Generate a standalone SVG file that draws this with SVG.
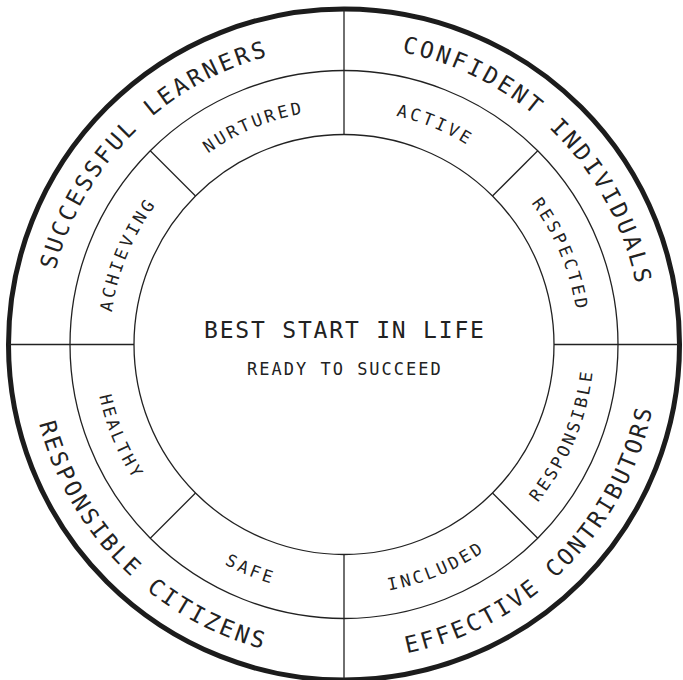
<svg xmlns="http://www.w3.org/2000/svg" width="683" height="680" viewBox="0 0 683 680">
<defs>
<style>
.ring{fill:none;stroke:#222;stroke-width:1.3}
.outer{fill:none;stroke:#1c1c1c;stroke-width:5}
.ln{stroke:#222;stroke-width:1.3;fill:none}
text{font-family:"DejaVu Sans Mono","Liberation Mono",monospace;fill:#222}
.big{font-size:23px;letter-spacing:2.9px}
.mid{font-size:17px;letter-spacing:3px}
</style>
<path id="pSL" d="M56.15,421.63 A298,298 0 0,1 421.13,56.65"/>
<path id="pCI" d="M266.87,56.65 A298,298 0 0,1 631.85,421.63"/>
<path id="pEC" d="M262.47,648.77 A315,315 0 0,0 648.27,262.97"/>
<path id="pRC" d="M39.73,262.97 A315,315 0 0,0 425.53,648.77"/>
<path id="pNU" d="M120.35,273.98 A234.5,234.5 0 0,1 452.28,136.5"/>
<path id="pAC" d="M235.72,136.5 A234.5,234.5 0 0,1 567.65,273.98"/>
<path id="pRE" d="M414.52,120.85 A234.5,234.5 0 0,1 552,452.78"/>
<path id="pAH" d="M136,452.78 A234.5,234.5 0 0,1 273.48,120.85"/>
<path id="pRS" d="M419.18,582.93 A250,250 0 0,0 565.75,229.06"/>
<path id="pIN" d="M228.56,566.25 A250,250 0 0,0 582.43,419.68"/>
<path id="pSA" d="M105.57,419.68 A250,250 0 0,0 459.44,566.25"/>
<path id="pHE" d="M122.25,229.06 A250,250 0 0,0 268.82,582.93"/>
</defs>
<rect width="683" height="680" fill="#fff"/>
<g id="rings">
<circle class="outer" cx="344" cy="344.5" r="335.5"/>
<circle class="ring" cx="344" cy="344.5" r="274"/>
<circle class="ring" cx="344" cy="344.5" r="210"/>
</g>
<g id="connectors">
<line class="ln" x1="344" y1="9" x2="344" y2="134.5"/>
<line class="ln" x1="344" y1="554.5" x2="344" y2="680"/>
<line class="ln" x1="8.5" y1="344.5" x2="134" y2="344.5"/>
<line class="ln" x1="554" y1="344.5" x2="679.5" y2="344.5"/>
<line class="ln" x1="195.51" y1="196.01" x2="150.25" y2="150.75"/>
<line class="ln" x1="492.49" y1="196.01" x2="537.75" y2="150.75"/>
<line class="ln" x1="492.49" y1="492.99" x2="537.75" y2="538.25"/>
<line class="ln" x1="195.51" y1="492.99" x2="150.25" y2="538.25"/>
</g>
<g id="center">
<text x="344.9" y="338" font-size="23" letter-spacing="1.8" text-anchor="middle">BEST START IN LIFE</text>
<text x="344.9" y="375" font-size="17" letter-spacing="2" text-anchor="middle">READY TO SUCCEED</text>
</g>
<g id="successful-learners"><text class="big"><textPath href="#pSL" startOffset="50%" text-anchor="middle">SUCCESSFUL LEARNERS</textPath></text></g>
<g id="confident-individuals"><text class="big"><textPath href="#pCI" startOffset="50%" text-anchor="middle">CONFIDENT INDIVIDUALS</textPath></text></g>
<g id="effective-contributors"><text class="big"><textPath href="#pEC" startOffset="50%" text-anchor="middle">EFFECTIVE CONTRIBUTORS</textPath></text></g>
<g id="responsible-citizens"><text class="big"><textPath href="#pRC" startOffset="50%" text-anchor="middle">RESPONSIBLE CITIZENS</textPath></text></g>
<g id="nurtured"><text class="mid"><textPath href="#pNU" startOffset="50%" text-anchor="middle">NURTURED</textPath></text></g>
<g id="active"><text class="mid"><textPath href="#pAC" startOffset="50%" text-anchor="middle">ACTIVE</textPath></text></g>
<g id="respected"><text class="mid"><textPath href="#pRE" startOffset="50%" text-anchor="middle">RESPECTED</textPath></text></g>
<g id="achieving"><text class="mid"><textPath href="#pAH" startOffset="50%" text-anchor="middle">ACHIEVING</textPath></text></g>
<g id="responsible"><text class="mid"><textPath href="#pRS" startOffset="50%" text-anchor="middle">RESPONSIBLE</textPath></text></g>
<g id="included"><text class="mid"><textPath href="#pIN" startOffset="50%" text-anchor="middle">INCLUDED</textPath></text></g>
<g id="safe"><text class="mid"><textPath href="#pSA" startOffset="50%" text-anchor="middle">SAFE</textPath></text></g>
<g id="healthy"><text class="mid"><textPath href="#pHE" startOffset="50%" text-anchor="middle">HEALTHY</textPath></text></g>
</svg>
